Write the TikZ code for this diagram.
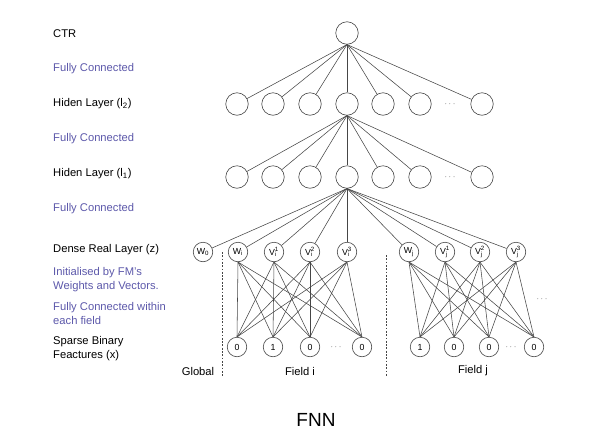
\documentclass[tikz,border=0pt]{standalone}
\usepackage{fontspec}
\setmainfont{Liberation Sans}
\definecolor{fcBlue}{RGB}{92,88,170}
\definecolor{lineGray}{RGB}{70,70,70}

\begin{document}
\begin{tikzpicture}[x=1pt,y=-1pt]

\useasboundingbox (0,0) rectangle (597,445);

\def\hidY{104}
\def\hidYY{177}
\def\denseY{252}
\def\sparseY{347}

\tikzstyle{neuron}=[circle,draw=lineGray,line width=0.6pt,minimum size=22.5pt,inner sep=0pt,font=\fontsize{8.8}{9}\selectfont]
\tikzstyle{smallNeuron}=[neuron,minimum size=19.5pt]
\tikzstyle{layerLabel}=[anchor=west,inner sep=0pt,align=left,font=\fontsize{11.2}{14}\selectfont]
\tikzstyle{fcLabel}=[layerLabel,text=fcBlue]
\tikzstyle{link}=[draw=lineGray,line width=0.55pt]
\tikzstyle{fieldSep}=[draw=lineGray,line width=0.7pt,dash pattern=on 1.8pt off 1.5pt]
\tikzstyle{dots}=[font=\fontsize{9}{10}\selectfont,text=black!70]

%Layer Marks
\node[layerLabel] (ctrLabel)    at (53,34)  {CTR};
\node[fcLabel]    (fcLabelA)    at (53,69)  {Fully Connected};
\node[layerLabel] (hidTwoLabel) at (53,104) {Hiden Layer (l\textsubscript{2})};
\node[fcLabel]    (fcLabelB)    at (53,139) {Fully Connected};
\node[layerLabel] (hidOneLabel) at (53,174) {Hiden Layer (l\textsubscript{1})};
\node[fcLabel]    (fcLabelC)    at (53,209) {Fully Connected};
\node[layerLabel] (denseLabel)  at (53,250) {Dense Real Layer (z)};
\node[fcLabel]    (initLabel)   at (53,280) {Initialised by FM's\\Weights and Vectors.};
\node[fcLabel]    (fieldLabel)  at (53,313) {Fully Connected within\\each field};
\node[layerLabel] (sparseLabel) at (53,349) {Sparse Binary\\Feactures (x)};

%output node
\node[neuron] (ctr) at (347,33) {};

%hidden layers
\foreach \x [count=\i] in {237,273,310,347,383,420,482} {
  \node[neuron] (hTwo\i) at (\x,\hidY)  {};
  \node[neuron] (hOne\i) at (\x,\hidYY) {};
}
\node[dots] (hTwoDots) at (450,\hidY)  {$\cdots$};
\node[dots] (hOneDots) at (450,\hidYY) {$\cdots$};

%dense nodes
\node[smallNeuron] (wZero) at (203,\denseY) {W\textsubscript{0}};
\node[smallNeuron] (wI)    at (238,\denseY) {W\textsubscript{i}};
\node[smallNeuron] (vI1)   at (274,\denseY) {V\rlap{\textsubscript{i}}\textsuperscript{1}};
\node[smallNeuron] (vI2)   at (310,\denseY) {V\rlap{\textsubscript{i}}\textsuperscript{2}};
\node[smallNeuron] (vI3)   at (347,\denseY) {V\rlap{\textsubscript{i}}\textsuperscript{3}};
\node[smallNeuron] (wJ)    at (409,\denseY) {W\textsubscript{j}};
\node[smallNeuron] (vJ1)   at (445,\denseY) {V\rlap{\textsubscript{j}}\textsuperscript{1}};
\node[smallNeuron] (vJ2)   at (480,\denseY) {V\rlap{\textsubscript{j}}\textsuperscript{2}};
\node[smallNeuron] (vJ3)   at (516,\denseY) {V\rlap{\textsubscript{j}}\textsuperscript{3}};

%sparse nodes
\node[smallNeuron] (xI1) at (237,\sparseY) {0};
\node[smallNeuron] (xI2) at (273,\sparseY) {1};
\node[smallNeuron] (xI3) at (310,\sparseY) {0};
\node[smallNeuron] (xI4) at (362,\sparseY) {0};
\node[smallNeuron] (xJ1) at (420,\sparseY) {1};
\node[smallNeuron] (xJ2) at (454,\sparseY) {0};
\node[smallNeuron] (xJ3) at (489,\sparseY) {0};
\node[smallNeuron] (xJ4) at (534,\sparseY) {0};
\node[dots] (xIDots) at (336,\sparseY) {$\cdots$};
\node[dots] (xJDots) at (511,\sparseY) {$\cdots$};
\node[dots] (moreFields) at (542,299) {$\cdots$};

%field marks
\coordinate (sepITop) at (222,252);
\coordinate (sepIBot) at (222,377);
\coordinate (sepJTop) at (386,255);
\coordinate (sepJBot) at (386,377);
\draw[fieldSep] (sepITop) -- (sepIBot);
\draw[fieldSep] (sepJTop) -- (sepJBot);
\node[layerLabel,anchor=center] (globalLabel) at (198,371) {Global};
\node[layerLabel,anchor=center] (fieldILabel) at (300,371) {Field i};
\node[layerLabel,anchor=center] (fieldJLabel) at (473,371) {Field j};
\node[font=\fontsize{19}{22}\selectfont] (fnnTitle) at (316,420) {FNN};

% connections
\foreach \i in {1,...,7} {
  \draw[link] (ctr.south) -- (hTwo\i);
  \draw[link] (hTwo4.south) -- (hOne\i);
}
\foreach \d in {wZero,wI,vI1,vI2,vI3,wJ,vJ1,vJ2,vJ3}
  \draw[link] (hOne4.south) -- (\d);

\foreach \d in {wI,vI1,vI2,vI3}
  \foreach \s in {1,...,4}
    \draw[link] (\d.south) -- (xI\s.north);
\foreach \d in {wJ,vJ1,vJ2,vJ3}
  \foreach \s in {1,...,4}
    \draw[link] (\d.south) -- (xJ\s.north);

\end{tikzpicture}
\end{document}
